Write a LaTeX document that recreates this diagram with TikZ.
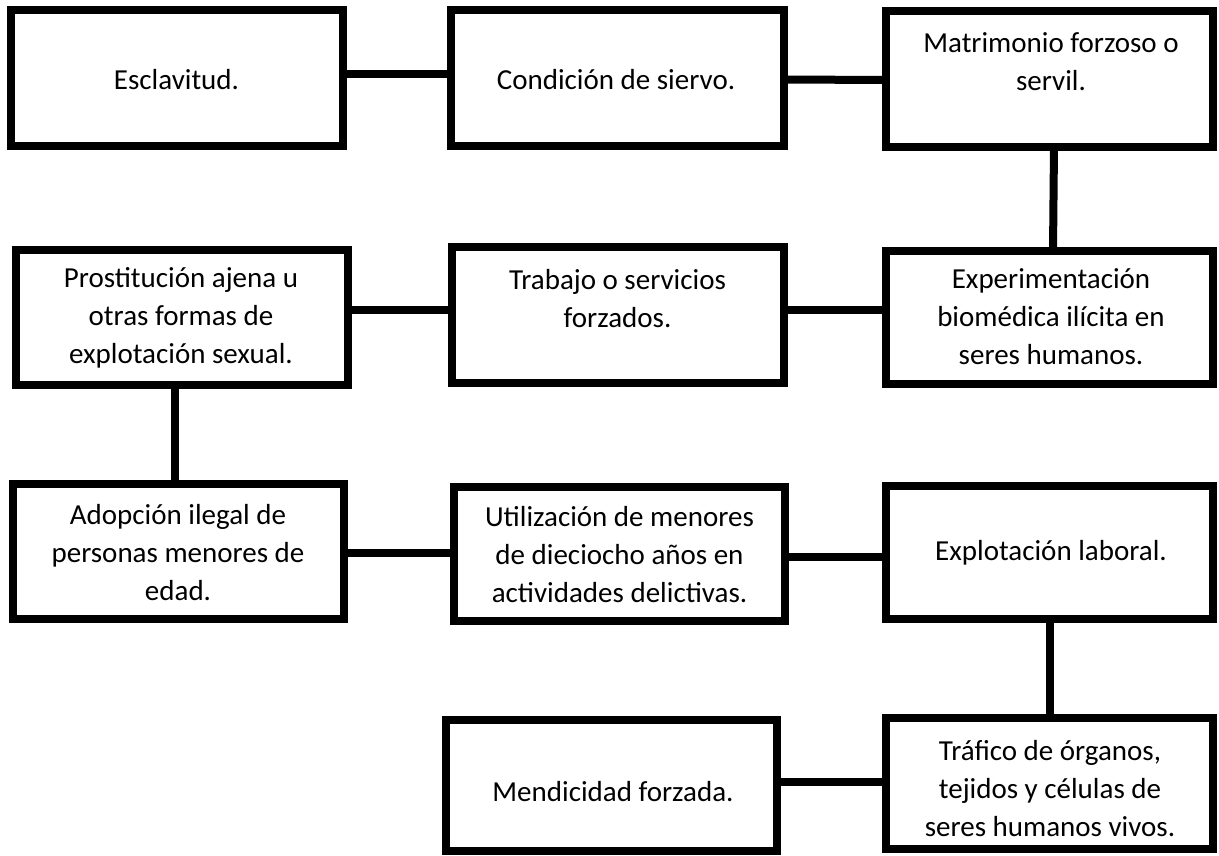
\documentclass[tikz,border=0pt]{standalone}
\usepackage{fontspec}
\setmainfont{Carlito}
\begin{document}
\begin{tikzpicture}[x=1pt,y=-1pt,
  box/.style={draw=black, line width=8pt, inner sep=0pt, outer sep=0pt, minimum width=#1},
  box/.default=331,
  lbl/.style={align=center, inner sep=0pt, font=\fontsize{29}{38}\selectfont},
  conn/.style={draw=black, line width=8pt}]
\useasboundingbox[fill=white] (0,0) rectangle (1219,856);
% boxes
\node[box=332, minimum height=136] (escl) at (177,78) {};
\node[box=333, minimum height=136] (cond) at (617,78) {};
\node[box=327, minimum height=136] (matr) at (1049.5,79) {};
\node[box=331.5, minimum height=135] (prost) at (181.75,317.5) {};
\node[box=332, minimum height=136] (trab) at (618,315) {};
\node[box=327, minimum height=133] (exper) at (1049.5,317.5) {};
\node[box=331, minimum height=135] (adop) at (178,551.5) {};
\node[box=331, minimum height=134] (util) at (619.4,553.9) {};
\node[box=327, minimum height=133] (expl) at (1049.5,552.5) {};
\node[box=331, minimum height=131] (mend) at (611.5,785.5) {};
\node[box=327, minimum height=131] (traf) at (1049.5,783.5) {};
% labels
\node[lbl] (tescl) at (176.5,80) {Esclavitud.};
\node[lbl] (tcond) at (616,80) {Condición de siervo.};
\node[lbl] (tmatr) at (1051,62) {Matrimonio forzoso o\\servil.};
\node[lbl] (tprost) at (181,318) {Prostitución ajena u\\otras formas de\\explotación sexual.};
\node[lbl] (ttrab) at (617.5,299) {Trabajo o servicios\\forzados.};
\node[lbl] (texper) at (1051,317) {Experimentación\\biomédica ilícita en\\seres humanos.};
\node[lbl] (tadop) at (178,553) {Adopción ilegal de\\personas menores de\\edad.};
\node[lbl] (tutil) at (619.5,555) {Utilización de menores\\de dieciocho años en\\actividades delictivas.};
\node[lbl] (texpl) at (1051,553) {Explotación laboral.};
\node[lbl] (tmend) at (613,792) {Mendicidad forzada.};
\node[lbl] (ttraf) at (1050,789) {Tráfico de órganos,\\tejidos y células de\\seres humanos vivos.};
% connectors
\draw[conn] ([yshift=4]escl.east) -- ([yshift=4]cond.west);
\draw[conn] ([yshift=-1.5]cond.east) -- ([yshift=-1]matr.west);
\draw[conn] ([yshift=7.5]prost.east) -- ([xshift=4,yshift=5]trab.west);
\draw[conn] ([yshift=5]trab.east) -- ([yshift=7.5]exper.west);
\draw[conn] ([yshift=-1.5]adop.east) -- ([yshift=0.9]util.west);
\draw[conn] ([yshift=-3.1]util.east) -- ([yshift=-4.5]expl.west);
\draw[conn] ([yshift=3.5]mend.east) -- ([yshift=1.5]traf.west);
\draw[conn] ([xshift=4.5]matr.south) -- ([xshift=3.5]exper.north);
\draw[conn] ([xshift=-6.75]prost.south) -- ([xshift=-3]adop.north);
\draw[conn] (expl.south) -- ([yshift=-4]traf.north);
\end{tikzpicture}
\end{document}
